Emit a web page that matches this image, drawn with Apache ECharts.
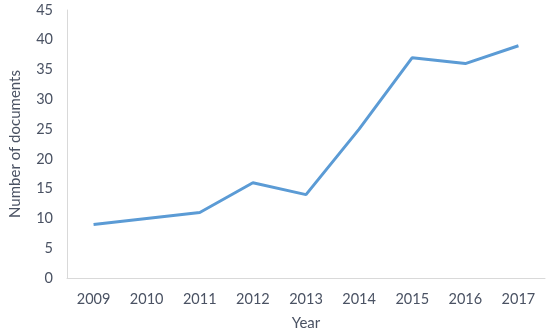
<!DOCTYPE html>
<html>
<head>
<meta charset="utf-8">
<script src="https://cdn.jsdelivr.net/npm/echarts@6/dist/echarts.min.js"></script>
<style>
  html, body { margin: 0; padding: 0; background: #fff; }
  #main { width: 550px; height: 336px; }
</style>
</head>
<body>
<div id="main"></div>
<script>
// data
var years = ['2009', '2010', '2011', '2012', '2013', '2014', '2015', '2016', '2017'];
var docs = [9, 10, 11, 16, 14, 25, 37, 36, 39];

var chart = echarts.init(document.getElementById('main'));
var txt = '#4a5263';
var font = 'Lato, "Open Sans", sans-serif';

var option = {
  backgroundColor: '#ffffff',
  animation: false,
  grid: { left: 65, right: 5, top: 10, bottom: 56 },
  xAxis: {
    type: 'category',
    data: years,
    boundaryGap: true,
    name: 'Year',
    nameLocation: 'middle',
    nameGap: 38,
    nameTextStyle: { color: txt, fontSize: 15, fontFamily: font },
    axisLine: { lineStyle: { color: '#d9d9d9', width: 1 } },
    axisTick: { show: false },
    axisLabel: { color: txt, fontSize: 14.5, fontFamily: font, margin: 14 }
  },
  yAxis: {
    type: 'value',
    min: 0,
    max: 45,
    interval: 5,
    name: 'Number of documents',
    nameLocation: 'middle',
    nameGap: 44,
    nameTextStyle: { color: txt, fontSize: 15, fontFamily: font },
    axisLine: { show: true, lineStyle: { color: '#d9d9d9', width: 1 } },
    axisTick: { show: false },
    splitLine: { show: false },
    axisLabel: { color: txt, fontSize: 14.5, fontFamily: font, margin: 14 }
  },
  series: [
    {
      type: 'line',
      data: docs,
      symbol: 'none',
      lineStyle: { color: '#5b9bd5', width: 3 }
    }
  ]
};
chart.setOption(option);
</script>
</body>
</html>
